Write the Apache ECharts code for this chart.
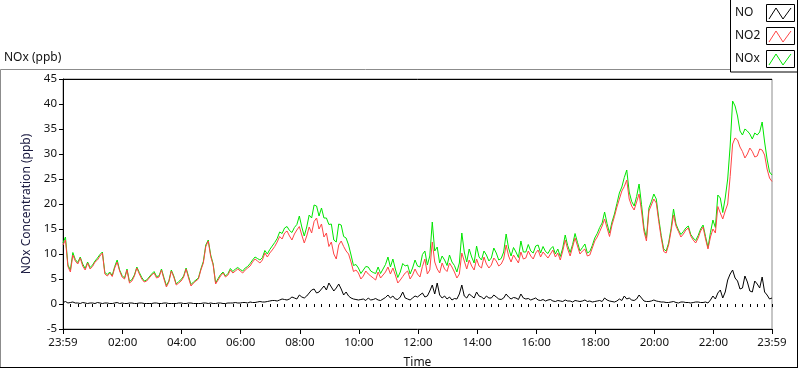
<!DOCTYPE html>
<html><head><meta charset="utf-8">
<script src="https://cdn.jsdelivr.net/npm/echarts@6/dist/echarts.min.js"></script>
<style>html,body{margin:0;padding:0;background:#fff}#c{width:800px;height:369px}</style>
</head><body><div id="c"></div>
<script>
// sampling: minutes since midnight of the first sample (23:59 previous day) and step
const startMinute = -1;
const stepMinutes = 5;
const xTickMinutes = [-1, 120, 240, 360, 480, 600, 720, 840, 960, 1080, 1200, 1320, 1439];
const xTickLabels = ['23:59','02:00','04:00','06:00','08:00','10:00','12:00','14:00','16:00','18:00','20:00','22:00','23:59'];

// one line = 2 hours (24 samples at 5-min steps)
const NO2 = [
11.8,12.8,7.5,6.4,9.8,8.6,8.0,9.2,7.6,6.8,8.2,7.0,7.5,8.4,8.8,9.6,10.2,6.0,5.6,6.2,5.5,7.2,8.4,6.6,
5.4,5.0,6.8,4.2,4.6,5.6,7.2,6.0,5.0,4.4,4.6,5.2,5.8,6.2,5.2,5.4,6.8,5.0,3.4,4.4,6.6,5.4,3.8,4.2,
4.6,5.4,7.0,5.2,3.6,4.2,4.6,5.0,6.8,8.2,11.5,12.6,9.5,7.8,4.0,4.8,5.6,6.2,5.4,5.8,6.8,6.2,6.6,7.0,
6.6,6.2,6.8,7.2,7.6,8.4,9.0,8.6,8.2,8.8,10.2,9.4,10.2,10.8,11.5,12.4,13.5,13.0,14.2,14.6,13.6,12.8,14.0,14.8,
15.5,13.8,12.2,13.6,15.4,14.2,16.5,17.2,15.0,16.0,13.4,14.2,11.5,12.4,10.0,9.0,11.8,12.6,11.5,10.6,10.0,8.4,6.5,6.8,
6.2,5.0,5.6,6.6,6.0,5.6,5.2,4.8,6.4,5.2,5.8,6.4,7.4,6.0,7.2,5.8,4.2,4.8,5.5,6.2,6.6,5.0,5.8,7.0,
6.0,5.4,7.5,9.0,6.0,6.8,12.4,8.4,7.0,6.2,8.2,7.0,6.5,8.2,7.4,6.4,5.2,6.0,10.2,8.6,7.0,8.8,7.6,6.8,
9.0,7.6,7.2,9.4,8.0,7.2,7.8,9.2,8.6,7.6,8.0,9.0,11.8,9.6,8.4,9.8,9.0,8.2,10.4,9.0,9.2,10.6,9.6,9.0,
10.2,10.8,9.4,10.4,9.8,9.2,10.0,10.8,9.4,10.2,8.8,10.6,12.8,11.0,9.6,11.4,13.2,11.6,10.0,10.6,11.0,9.6,9.8,11.2,
12.6,13.4,14.5,15.6,17.0,15.2,13.5,15.8,17.5,19.4,21.0,22.6,23.5,24.8,21.0,19.6,18.8,20.4,22.0,18.6,14.5,12.6,18.6,19.8,
21.0,20.2,16.5,13.2,10.5,10.2,11.8,14.6,17.8,15.6,14.5,13.4,14.0,14.8,15.2,13.6,12.8,12.2,13.2,14.6,15.4,13.0,11.0,13.4,
15.0,14.2,19.5,18.2,17.0,18.6,20.0,25.5,32.0,33.2,32.8,31.4,30.5,29.2,30.0,31.2,30.5,29.4,29.6,31.0,30.8,29.8,27.0,25.2,
24.5];

const NO = [
0.3,0.5,0.2,0.3,0.4,0.2,0.2,0.1,0.3,0.2,0.1,0.2,0.2,0.1,0.3,0.2,0.1,0.2,0.2,0.1,0.1,0.2,0.3,0.1,
0.2,0.1,0.1,0.2,0.2,0.1,0.1,0.2,0.2,0.1,0.1,0.1,0.1,0.2,0.2,0.1,0.1,0.2,0.2,0.1,0.1,0.1,0.1,0.2,
0.2,0.1,0.1,0.2,0.2,0.1,0.1,0.1,0.1,0.2,0.2,0.1,0.2,0.1,0.1,0.2,0.2,0.1,0.1,0.2,0.2,0.2,0.3,0.2,
0.2,0.3,0.3,0.2,0.4,0.3,0.3,0.4,0.5,0.4,0.4,0.5,0.6,0.7,0.7,0.6,0.8,1.0,0.9,0.8,1.0,1.4,1.2,1.0,
1.8,1.4,1.2,1.6,2.2,2.8,3.0,2.2,2.4,3.0,3.6,2.8,4.2,3.4,2.6,3.2,4.0,3.0,1.8,2.4,1.6,1.2,1.0,0.9,
0.8,0.9,1.0,0.7,1.2,0.8,0.9,1.1,0.8,0.7,1.0,1.3,1.8,1.2,1.6,1.0,0.9,1.4,2.4,1.2,1.0,0.8,1.2,1.6,
1.4,1.8,2.2,1.4,1.6,2.6,3.8,2.0,4.2,1.8,1.2,1.6,1.0,1.4,0.8,1.1,1.0,2.0,3.8,1.6,1.2,2.0,1.6,1.2,
2.4,1.6,1.4,1.0,1.6,1.2,1.2,1.8,1.4,1.0,0.9,1.2,2.0,1.4,1.0,1.3,1.2,0.9,2.0,1.2,1.0,1.1,0.8,1.0,
1.2,0.8,0.7,0.9,0.6,0.8,0.9,0.6,0.5,0.7,0.6,0.5,0.8,0.6,0.6,0.4,0.7,0.6,0.5,0.6,0.8,0.5,0.6,0.4,
0.5,0.6,0.7,0.5,1.2,0.8,0.6,0.5,0.4,0.6,1.0,0.7,1.6,1.0,1.2,0.8,0.7,1.0,1.8,1.2,0.6,0.5,0.5,0.6,
0.8,0.6,0.5,0.4,0.4,0.3,0.3,0.4,0.5,0.3,0.2,0.4,0.4,0.3,0.3,0.2,0.3,0.4,0.4,0.3,0.3,0.4,0.2,0.8,
1.6,1.0,2.2,2.8,1.2,2.4,4.8,6.0,6.8,5.2,4.6,3.0,3.2,5.6,4.4,2.6,2.4,4.6,4.0,3.2,5.4,2.4,1.8,1.0,
1.2];

const NOx = [
12.2,13.4,7.8,6.8,10.3,8.9,8.3,9.4,8.0,7.1,8.4,7.3,7.8,8.6,9.2,9.9,10.4,6.3,5.9,6.4,5.7,7.5,8.8,6.8,
5.7,5.2,7.0,4.5,4.9,5.8,7.4,6.3,5.3,4.6,4.8,5.4,6.0,6.5,5.5,5.6,7.0,5.3,3.7,4.6,6.8,5.6,4.0,4.5,
4.9,5.6,7.2,5.5,3.9,4.4,4.8,5.2,7.0,8.5,11.8,12.8,9.8,8.0,4.2,5.1,5.9,6.4,5.6,6.1,7.1,6.5,7.0,7.3,
6.9,6.6,7.2,7.5,8.1,8.8,9.4,9.1,8.8,9.3,10.7,10.0,10.9,11.6,12.3,13.1,14.4,14.1,15.2,15.5,14.7,14.3,15.3,15.9,
17.6,15.4,13.6,15.4,17.8,17.2,19.8,19.6,17.6,19.2,17.2,17.2,15.9,16.0,12.8,12.4,16.0,15.8,13.5,13.2,11.8,9.8,7.7,7.9,
7.2,6.1,6.8,7.5,7.4,6.6,6.3,6.1,7.4,6.1,7.0,7.9,9.4,7.4,9.0,7.0,5.3,6.4,8.1,7.6,7.8,6.0,7.2,8.8,
7.6,7.4,9.9,10.6,7.8,9.6,16.4,10.6,11.4,8.2,9.6,8.8,7.7,9.8,8.4,7.7,6.4,8.2,14.2,10.4,8.4,11.0,9.4,8.2,
11.6,9.4,8.8,10.6,9.8,8.6,9.2,11.2,10.2,8.8,9.1,10.4,14.0,11.2,9.6,11.3,10.4,9.3,12.6,10.4,10.4,11.9,10.6,10.2,
11.6,11.8,10.2,11.5,10.5,10.1,11.0,11.5,10.0,11.0,9.5,11.2,13.8,11.7,10.3,11.9,14.1,12.3,10.6,11.3,12.0,10.2,10.5,11.7,
13.2,14.1,15.3,16.2,18.4,16.1,14.2,16.4,18.0,20.1,22.2,23.4,25.3,26.8,22.4,20.5,19.6,21.5,24.0,19.9,15.2,13.2,19.2,20.5,
22.0,21.0,17.1,13.7,11.0,10.6,12.2,15.1,19.0,16.0,14.8,13.9,14.5,15.2,15.6,13.9,13.2,12.7,13.7,15.0,15.8,13.5,11.3,14.3,
16.8,15.3,21.8,21.2,18.3,21.2,25.0,31.6,40.6,39.6,37.6,34.6,33.8,35.0,34.6,34.0,33.0,34.2,33.8,34.4,36.4,32.4,29.0,26.4,
25.8];

const xMinor = [];
for (let m = startMinute; m <= 1439; m += 15) xMinor.push(m);

const toPairs = arr => arr.map((v, i) => [startMinute + i * stepMinutes, v]);
const FONT = 'Noto Sans';
const TXT = '#111';
const RED = '#ff4545', GREEN = '#00e600';

const chart = echarts.init(document.getElementById('c'), null, {renderer: 'canvas'});
function zig(x, y, color) {
  return {type: 'group', children: [
    {type: 'rect', shape: {x: x + 0.5, y: y + 0.5, width: 28, height: 17}, style: {fill: '#fff', stroke: '#000', lineWidth: 1}},
    {type: 'polyline', shape: {points: [[x + 3, y + 15], [x + 10, y + 4], [x + 17, y + 15], [x + 25, y + 4]]}, style: {stroke: color, lineWidth: 1, fill: null}}
  ]};
}
chart.setOption({
  animation: false,
  backgroundColor: '#fff',
  grid: {left: 63, right: 28, top: 79, bottom: 40, show: true, borderColor: '#8c8c8c', borderWidth: 1, backgroundColor: '#fff', outerBoundsMode: 'none', containLabel: false},
  xAxis: [{
    type: 'value', min: -1, max: 1439,
    name: 'Time', nameLocation: 'middle', nameGap: 28,
    nameTextStyle: {fontFamily: FONT, fontSize: 12, color: TXT},
    axisLine: {show: true, onZero: false, lineStyle: {color: '#000', width: 1}},
    axisTick: {show: true, customValues: xTickMinutes, length: 5, lineStyle: {color: '#000'}},
    axisLabel: {customValues: xTickMinutes, formatter: v => xTickLabels[xTickMinutes.indexOf(v)] || '', fontFamily: FONT, fontSize: 11.5, color: TXT, margin: 8},
    splitLine: {show: false}
  }, {
    type: 'value', min: -1, max: 1439, position: 'bottom',
    axisLine: {show: false},
    axisTick: {show: true, customValues: xMinor, length: 3, lineStyle: {color: '#000'}},
    axisLabel: {show: false}, splitLine: {show: false}
  }],
  yAxis: {
    type: 'value', min: -5, max: 45, interval: 5,
    name: 'NOx Concentration (ppb)', nameLocation: 'middle', nameGap: 21,
    nameTextStyle: {fontFamily: FONT, fontSize: 12, color: '#1a1a40'},
    axisLine: {show: true, onZero: false, lineStyle: {color: '#000'}},
    axisTick: {show: true, length: 4, lineStyle: {color: '#000'}},
    axisLabel: {fontFamily: FONT, fontSize: 11.5, color: TXT, margin: 6},
    splitLine: {show: false}
  },
  series: [
    {name: 'NOx', type: 'line', data: toPairs(NOx), showSymbol: false, symbol: 'none', lineStyle: {color: GREEN, width: 1}, itemStyle: {color: GREEN}},
    {name: 'NO2', type: 'line', data: toPairs(NO2), showSymbol: false, symbol: 'none', lineStyle: {color: RED, width: 1}, itemStyle: {color: RED}},
    {name: 'NO', type: 'line', data: toPairs(NO), showSymbol: false, symbol: 'none', lineStyle: {color: '#000', width: 1}, itemStyle: {color: '#000'}}
  ],
  graphic: [
    {type: 'line', shape: {x1: 0.5, y1: 69.5, x2: 730.5, y2: 69.5}, style: {stroke: '#8c8c8c', lineWidth: 1}},
    {type: 'line', shape: {x1: 0.5, y1: 69.5, x2: 0.5, y2: 368}, style: {stroke: '#8c8c8c', lineWidth: 1}},
    {type: 'line', shape: {x1: 0, y1: 367.5, x2: 798, y2: 367.5}, style: {stroke: '#000', lineWidth: 1}},
    {type: 'line', shape: {x1: 797.5, y1: 0, x2: 797.5, y2: 368}, style: {stroke: '#000', lineWidth: 1}},
    {type: 'line', shape: {x1: 63, y1: 79.5, x2: 772, y2: 79.5}, style: {stroke: '#000', lineWidth: 1}},
    {type: 'rect', shape: {x: 730.5, y: -1, width: 67, height: 73}, style: {fill: '#fff', stroke: '#000', lineWidth: 1}},
    {type: 'text', x: 4, y: 58, style: {text: 'NOx (ppb)', font: '12px "Noto Sans"', fill: TXT, textVerticalAlign: 'middle'}},
    {type: 'text', x: 735, y: 13, style: {text: 'NO', font: '12px "Noto Sans"', fill: TXT, textVerticalAlign: 'middle'}},
    {type: 'text', x: 735, y: 36, style: {text: 'NO2', font: '12px "Noto Sans"', fill: TXT, textVerticalAlign: 'middle'}},
    {type: 'text', x: 735, y: 59, style: {text: 'NOx', font: '12px "Noto Sans"', fill: TXT, textVerticalAlign: 'middle'}},
    zig(766, 4, '#000'),
    zig(766, 27, RED),
    zig(766, 50, GREEN)
  ]
});
</script></body></html>
